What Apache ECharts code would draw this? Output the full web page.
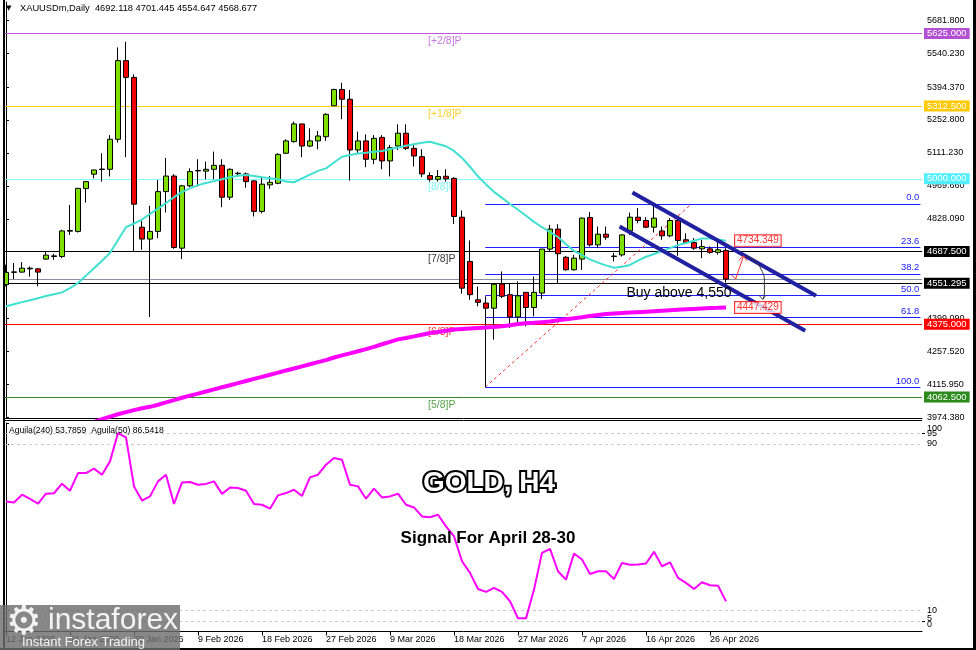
<!DOCTYPE html>
<html><head><meta charset="utf-8">
<script src="https://cdn.jsdelivr.net/npm/echarts@6/dist/echarts.min.js"></script>
<style>html,body{margin:0;padding:0;background:#fff}#c{width:976px;height:650px}</style>
</head><body><div id="c"></div>
<script>
// ---------- DATA ----------
const dates = ['12 Jan 2026','13 Jan 2026','14 Jan 2026','15 Jan 2026','16 Jan 2026','18 Jan 2026','19 Jan 2026','20 Jan 2026','21 Jan 2026','22 Jan 2026',
'23 Jan 2026','25 Jan 2026','26 Jan 2026','27 Jan 2026','28 Jan 2026','29 Jan 2026','30 Jan 2026','1 Feb 2026','2 Feb 2026','3 Feb 2026',
'4 Feb 2026','5 Feb 2026','6 Feb 2026','8 Feb 2026','9 Feb 2026','10 Feb 2026','11 Feb 2026','12 Feb 2026','13 Feb 2026','15 Feb 2026',
'16 Feb 2026','17 Feb 2026','18 Feb 2026','19 Feb 2026','20 Feb 2026','22 Feb 2026','23 Feb 2026','24 Feb 2026','25 Feb 2026','26 Feb 2026',
'27 Feb 2026','1 Mar 2026','2 Mar 2026','3 Mar 2026','4 Mar 2026','5 Mar 2026','6 Mar 2026','8 Mar 2026','9 Mar 2026','10 Mar 2026',
'11 Mar 2026','12 Mar 2026','13 Mar 2026','15 Mar 2026','16 Mar 2026','17 Mar 2026','18 Mar 2026','19 Mar 2026','20 Mar 2026','22 Mar 2026',
'23 Mar 2026','24 Mar 2026','25 Mar 2026','26 Mar 2026','27 Mar 2026','29 Mar 2026','30 Mar 2026','31 Mar 2026','1 Apr 2026','2 Apr 2026',
'5 Apr 2026','6 Apr 2026','7 Apr 2026','8 Apr 2026','9 Apr 2026','10 Apr 2026','12 Apr 2026','13 Apr 2026','14 Apr 2026','15 Apr 2026',
'16 Apr 2026','17 Apr 2026','19 Apr 2026','20 Apr 2026','21 Apr 2026','22 Apr 2026','23 Apr 2026','24 Apr 2026','26 Apr 2026','27 Apr 2026',
'28 Apr 2026'];
const dateLabelIdx = [0,8,16,24,32,40,48,56,64,72,80,88];

const opens  = [4545,4598,4599,4616,4613,4655,4666,4666,4775,4774, 4958,5020,5040,5041,5170,5508,5436,4792,4741,4774,
 4945,5012,4702,4970,5034,5033,5041,5058,4921,5022, 5021,4991,4860,4974,4981,5110,5160,5236,5141,5163,
 5181,5314,5384,5342,5124,5163,5084,5178,5077,5141, 5196,5131,5095,5014,4998,5011,5002,4835,4645,4480,
 4466,4444,4548,4502,4406,4512,4447,4509,4698,4784, 4663,4609,4655,4834,4716,4762,4666,4673,4776,4835,
 4821,4792,4776,4755,4821,4738,4726,4699,4699,4684, 4692.118];
const highs  = [4631,4638,4642,4623,4615,4689,4678,4781,4888,4961, 4989,5039,5110,5188,5565,5589,5449,4819,4884,4995,
 5090,5020,4974,5045,5084,5074,5117,5084,5045,5031, 5027,4995,5012,5012,5110,5170,5246,5236,5217,5206,
 5282,5387,5413,5382,5203,5191,5188,5188,5146,5234, 5234,5146,5127,5028,5038,5041,5007,4864,4735,4537,
 4495,4552,4602,4552,4559,4512,4580,4698,4802,4805, 4669,4673,4834,4857,4795,4795,4681,4762,4855,4874,
 4835,4892,4795,4831,4827,4766,4745,4738,4709,4731, 4701.445];
const lows   = [4538,4569,4597,4580,4538,4652,4652,4659,4759,4769, 4898,5002,4988,5010,5156,5093,4688,4695,4406,4745,
 4855,4699,4655,4964,4967,4998,4998,4878,4909,5010, 4962,4838,4852,4957,4977,5107,5156,5093,5136,5127,
 5163,5314,5256,4992,5110,5050,5063,5041,5010,5124, 5124,5053,5007,4988,4988,4988,4806,4506,4480,4452,
 4105,4309,4487,4359,4373,4366,4409,4483,4688,4552, 4606,4606,4609,4709,4702,4738,4645,4666,4759,4809,
 4788,4769,4738,4749,4669,4724,4695,4659,4678,4674, 4554.647];
const closes = [4598,4600,4616,4613,4599,4672,4669,4776,4778,4959, 4988,5038,5042,5170,5508,5436,4891,4741,4774,4945,
 5012,4705,4970,5031,5036,5041,5058,4921,5041,5024, 4988,4860,4977,4985,5105,5163,5236,5141,5163,5184,
 5277,5384,5342,5124,5163,5084,5174,5077,5134,5196, 5131,5098,5021,4998,5010,5000,4838,4530,4502,4469,
 4444,4547,4495,4406,4497,4447,4512,4698,4784,4678, 4609,4659,4831,4716,4762,4749,4668,4759,4835,4821,
 4792,4831,4755,4821,4735,4726,4702,4709,4684,4695, 4568.677];

const maFast = [4452,4461,4470,4478,4487,4496,4504,4512,4530,4552, 4584,4616,4648,4681,4737,4792,4808,4825,4849,4872,
 4896,4921,4944,4959,4973,4982,4990,4998,5007,5013, 5016,5012,5007,5003,4998,4988,4985,5002,5018,5034,
 5045,5070,5095,5102,5109,5112,5116,5120,5128,5135, 5142,5149,5155,5159,5150,5140,5120,5090,5052,5010,
 4976,4944,4918,4892,4867,4841,4815,4792,4771,4750, 4719,4690,4672,4654,4640,4628,4618,4622,4630,4648,
 4665,4677,4690,4702,4715,4724,4734,4744,4743,4739, 4734.349];
const maSlow = [3850,3859,3868,3877,3886,3895,3904,3913,3923,3933, 3943,3955,3967,3978,3988,3997,4006,4014,4020,4029,
 4039,4049,4059,4068,4077,4086,4095,4104,4113,4122, 4131,4140,4149,4158,4167,4176,4185,4194,4203,4212,
 4221,4232,4241,4250,4259,4268,4278,4289,4299,4310, 4316,4323,4330,4337,4342,4347,4352,4355,4357,4359,
 4361,4363,4366,4371,4376,4379,4381,4384,4387,4392, 4396,4401,4405,4410,4415,4419,4421,4423,4425,4427,
 4429,4431,4433,4435,4437,4439,4441,4443,4445,4446, 4447.429];
const aguila = [62.4,61.9,65.6,63.6,61.3,66.1,66.3,70.9,67.5,76.0, 76.0,78.1,75.2,81.6,95.2,93.1,69.6,62.8,64.8,72.0,
 75.2,61.2,71.5,71.7,70.4,70.8,72.0,66.0,69.1,68.8, 67.5,61.2,60.8,58.9,65.3,66.4,68.0,65.0,73.9,75.2,
 80.0,83.2,82.4,70.4,69.6,63.7,68.5,64.3,64.8,66.1, 60.8,59.5,55.2,54.8,56.0,50.4,45.7,33.7,28.1,20.4,
 19.0,20.9,19.0,14.5,6.3,6.3,20.1,37.7,39.6,28.9, 24.9,37.4,34.5,27.6,28.9,28.9,25.2,32.9,32.0,32.1,
 32.6,38.2,31.3,33.2,25.7,23.3,20.4,23.6,22.2,22.0, 14.5];

const priceTicks = [3974.38,4115.95,4257.52,4399.09,4828.09,4969.66,5111.23,5252.80,5394.37,5540.23,5681.80];
const oscTicksA = [0,10,90,100];
const oscTicksB = [5,95];
const oscLevels = [5,10,90,95];

const murreyLevels = [5625,5312.5,5000,4687.5,4375,4062.5];
const murreyNames  = ['[+2/8]P','[+1/8]P','[8/8]P','[7/8]P','[6/8]P','[5/8]P'];
const murreyColors = ['#BE55DC','#FFCC00','#7FFFFF','#000000','#FF0000','#2E8B1E'];
const murreyTextColors = ['#BE55DC','#F5C400','#5FEFEF','#000000','#FF0000','#2E8B1E'];
const murreyTagColors = ['#B24FD2','#FFC800','#4FEFFF','#000000','#FF0000','#2A8A1A'];
const murreyLabelBar = 52.75;

const fibLevels = [4892.4,4706.5,4591.5,4498.6,4405.7,4104.8];
const fibNames  = ['0.0','23.6','38.2','50.0','61.8','100.0'];
const fibFromBar = 59.9, fibToBar = 114.3;
const fibDiagonal = [[59.9,4104.8],[85.7,4892.4]];

const channelUpper = [[78.3,4941],[101.25,4497.5]];
const channelLower = [[76.7,4795],[99.9,4347]];

const bidPrice = 4568.677;
const markPrice = 4551.295;
const maTagValues = [4734.349, 4447.429];

const redArrow = [[90.7,4587],[91.2,4569],[92.2,4669]];
const redArrowHead = [[91.6,4650],[92.2,4669],[92.6,4648]];
const blackArc = [[92.6,4667],[93.6,4648],[94.4,4610],[94.8,4560],[94.8,4510],[94.6,4482]];
const blackArcHead = [[94.1,4500],[94.6,4482],[95.0,4500]];

// ---------- BUILD ----------
const FONT = 'Liberation Sans';
const candles = opens.map((o,i)=>[i,o,closes[i],lows[i],highs[i]]);

const tagLabel = (txt,bg)=>({show:true, position:'end', distance:2, formatter:txt,
  color:'#fff', backgroundColor:bg, padding:[1,3,0,3], lineHeight:10, fontSize:9.5, fontFamily:FONT});
const murreyLines = murreyLevels.map((v,i)=>({
  yAxis: v, lineStyle:{color:murreyColors[i], width:1, type:'solid'}, label:tagLabel(v.toFixed(3), murreyTagColors[i])
}));
murreyLines.push({yAxis:bidPrice, lineStyle:{color:'#8A8FA0', width:1, type:'solid'}, label:{show:false}});
murreyLines.push({yAxis:markPrice, lineStyle:{color:'#000', width:1, type:'solid'}, label:tagLabel(markPrice.toFixed(3), '#000')});
const fibLines = fibLevels.map((v,i)=>[
  {coord:[fibFromBar,v], lineStyle:{color:'#2020FF', width:1, type:'solid'},
   label:{show:true, position:'insideEndTop', distance:[1,1], formatter: fibNames[i], color:'#2020FF', fontSize:9.5, fontFamily:FONT}},
  {coord:[fibToBar,v]}
]);
const thinLine = (name,data,color,extra)=>Object.assign({type:'line', name, xAxisIndex:0, yAxisIndex:0, data, symbol:'none', z:5, silent:true,
  lineStyle:{color, width:1}}, extra||{});
const oscLabelFmt = (v)=> v===100 ? '{t|100}' : v===0 ? '{b|0}' : v===5 ? '{m|5}' : String(v);
const oscRich = {t:{padding:[12,0,0,0]}, b:{padding:[0,0,14,0]}, m:{padding:[0,0,6,0]}};

const option = {
  animation:false,
  backgroundColor:'#ffffff',
  textStyle:{fontFamily:FONT},
  grid:[
    {left:5, right:54, top:2, height:416},
    {left:5, right:54, top:423, height:208.5}
  ],
  xAxis:[
    {type:'value', gridIndex:0, min:-0.125, max:114.5,
     axisLine:{show:true, onZero:false, lineStyle:{color:'#000', width:1}},
     axisTick:{show:false}, axisLabel:{show:false}, splitLine:{show:false}},
    {type:'value', gridIndex:1, min:-0.125, max:114.5,
     axisLine:{show:true, onZero:false, lineStyle:{color:'#000', width:1}},
     axisTick:{show:true, customValues:dateLabelIdx, length:4, lineStyle:{color:'#000'}},
     axisLabel:{show:true, customValues:dateLabelIdx, formatter:(v)=>dates[Math.round(v)], align:'left',
       margin:4, color:'#000', fontSize:9, fontFamily:FONT},
     splitLine:{show:false}}
  ],
  yAxis:[
    {type:'value', gridIndex:0, position:'right', min:3972, max:5760,
     axisLine:{show:true, lineStyle:{color:'#000', width:1}},
     axisTick:{show:true, customValues:priceTicks, length:3, lineStyle:{color:'#000'}},
     axisLabel:{show:true, customValues:priceTicks, showMinLabel:true, showMaxLabel:true,
       formatter:(v)=>v.toFixed(3), margin:5, color:'#000', fontSize:9, fontFamily:FONT},
     splitLine:{show:false}},
    {type:'value', gridIndex:1, position:'right', min:0, max:100,
     axisLine:{show:true, lineStyle:{color:'#000', width:1}},
     axisTick:{show:true, customValues:oscTicksA, length:3, lineStyle:{color:'#000'}},
     axisLabel:{show:true, customValues:oscTicksA, showMinLabel:true, showMaxLabel:true,
       margin:5, color:'#000', fontSize:9, fontFamily:FONT, formatter:oscLabelFmt, rich:oscRich},
     splitLine:{show:false}},
    {type:'value', gridIndex:1, position:'right', min:0, max:100,
     axisLine:{show:false},
     axisTick:{show:true, customValues:oscTicksB, length:3, lineStyle:{color:'#000'}},
     axisLabel:{show:true, customValues:oscTicksB, showMinLabel:true, showMaxLabel:true,
       margin:5, color:'#000', fontSize:9, fontFamily:FONT, formatter:oscLabelFmt, rich:oscRich},
     splitLine:{show:false}}
  ],
  series:[
    {type:'line', name:'levels', xAxisIndex:0, yAxisIndex:0, data:[], z:1,
     markLine:{z:1, symbol:'none', silent:true, animation:false, data: murreyLines.concat(fibLines)}},
    {type:'scatter', name:'murreyNames', xAxisIndex:0, yAxisIndex:0, z:1, symbolSize:0, silent:true,
     data: murreyLevels.map((v,i)=>({value:[murreyLabelBar,v],
       label:{show:true, position:'right', distance:0, offset:[0,8], formatter:murreyNames[i],
       color:murreyTextColors[i], fontSize:10.5, fontFamily:FONT}}))},
    {type:'line', name:'fibDiag', xAxisIndex:0, yAxisIndex:0, data:fibDiagonal, symbol:'none', z:2, silent:true,
     lineStyle:{color:'#FF2A2A', width:1, type:[3,3]}},
    {type:'candlestick', name:'XAUUSDm', xAxisIndex:0, yAxisIndex:0, data:candles, barWidth:5, z:3, clip:true,
     itemStyle:{color:'#7FE000', color0:'#F00000', borderColor:'#000', borderColor0:'#000', borderColorDoji:'#000', borderWidth:1}},
    {type:'line', name:'MA fast', xAxisIndex:0, yAxisIndex:0, data:maFast.map((v,i)=>[i,v]), symbol:'none', z:4,
     lineStyle:{color:'#40E0D0', width:2}},
    {type:'line', name:'MA slow', xAxisIndex:0, yAxisIndex:0, data:maSlow.map((v,i)=>[i,v]), symbol:'none', z:4,
     lineStyle:{color:'#FF00FF', width:4}},
    thinLine('chUp', channelUpper, '#2020A0', {lineStyle:{color:'#2020A0', width:4}}),
    thinLine('chLo', channelLower, '#2020A0', {lineStyle:{color:'#2020A0', width:4}}),
    thinLine('redArrow', redArrow, '#FF3030'),
    thinLine('redArrowHead', redArrowHead, '#FF3030'),
    thinLine('blackArc', blackArc, '#333333', {smooth:true}),
    thinLine('blackArcHead', blackArcHead, '#333333'),
    {type:'scatter', name:'maTags', xAxisIndex:0, yAxisIndex:0, symbolSize:0, z:6, silent:true,
     data: maTagValues.map(v=>({value:[90,v], label:{show:true, position:'right', distance:9, formatter:v.toFixed(3),
       color:'#FF0000', backgroundColor:'#fff', borderColor:'#FF0000', borderWidth:1, padding:[1,2,0,2], lineHeight:10,
       fontSize:10, fontFamily:FONT}}))},
    {type:'line', name:'Aguila', xAxisIndex:1, yAxisIndex:1, data:aguila.map((v,i)=>[i,v]), symbol:'none', z:3,
     lineStyle:{color:'#FF00FF', width:2},
     markLine:{z:1, symbol:'none', silent:true, animation:false, label:{show:false},
       lineStyle:{color:'#C8C8C8', width:1, type:[3,3]}, data: oscLevels.map(v=>({yAxis:v}))}}
  ],
  graphic:[
    {type:'rect', z:90, shape:{x:3,y:0,width:2,height:650}, style:{fill:'#000'}},
    {type:'rect', z:90, shape:{x:973,y:0,width:3,height:650}, style:{fill:'#000'}},
    {type:'rect', z:90, shape:{x:0,y:648,width:976,height:2}, style:{fill:'#000'}},
    {type:'line', z:90, shape:{x1:5,y1:420.5,x2:922,y2:420.5}, style:{stroke:'#000', lineWidth:1}},
    {type:'text', z:50, x:6, y:8, style:{text:'▼', font:'7px DejaVu Sans', fill:'#000', textVerticalAlign:'middle'}},
    {type:'text', z:50, x:20, y:8, style:{text:'XAUUSDm,Daily  4692.118 4701.445 4554.647 4568.677', font:'9.3px Liberation Sans', fill:'#000', textVerticalAlign:'middle'}},
    {type:'text', z:50, x:9, y:431, style:{text:'Aguila(240) 53.7859  Aguila(50) 86.5418', font:'8.6px Liberation Sans', fill:'#000', textVerticalAlign:'middle'}},
    {type:'text', z:50, x:679, y:293, style:{text:'Buy above 4,550', font:'14px Liberation Sans', fill:'#000', textAlign:'center', textVerticalAlign:'middle'}},
    {type:'text', z:60, x:489, y:483, style:{text:'GOLD, H4', font:'bold 28px Liberation Sans', fill:'#fff', stroke:'#000', lineWidth:4, strokeFirst:true,
      textAlign:'center', textVerticalAlign:'middle', shadowColor:'rgba(0,0,0,0.45)', shadowBlur:3, shadowOffsetX:3, shadowOffsetY:3}},
    {type:'text', z:60, x:488, y:538, style:{text:'Signal For April 28-30', font:'bold 17px Liberation Sans', fill:'#000',
      textAlign:'center', textVerticalAlign:'middle', shadowColor:'rgba(0,0,0,0.4)', shadowBlur:3, shadowOffsetX:2, shadowOffsetY:3}},
    {type:'group', z:100, children:[
      {type:'rect', z:100, shape:{x:0,y:605,width:180,height:45}, style:{fill:'rgba(110,110,110,0.82)'}},
      {type:'text', z:101, x:24, y:624, style:{text:'⚙', font:'40px DejaVu Sans', fill:'#f2f2f2', textAlign:'center', textVerticalAlign:'middle'}},
      {type:'text', z:101, x:48, y:621, style:{text:'instaforex', font:'30px Liberation Sans', fill:'#f4f4f4', textVerticalAlign:'middle'}},
      {type:'text', z:101, x:22, y:642, style:{text:'Instant Forex Trading', font:'13px Liberation Sans', fill:'#f4f4f4', textVerticalAlign:'middle'}}
    ]}
  ]
};
const chart = echarts.init(document.getElementById('c'), null, {renderer:'canvas'});
chart.setOption(option);
</script>
</body></html>
